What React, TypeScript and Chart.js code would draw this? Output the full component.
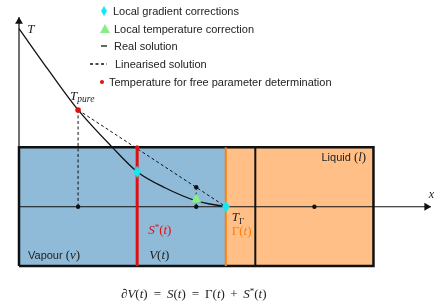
import React, { useEffect, useRef } from "react";
import { Chart, registerables } from "chart.js";
Chart.register(...registerables);

// ---- data (abstract units: x position, temperature T) ----
const curveX = [0, 0.5, 1, 1.58, 2, 2.47, 3, 3.5];
const curveT = [3, 2.3, 1.63, 1.0, 0.59, 0.32, 0.1, 0];
const linearX = [1, 3.5];
const linearT = [1.63, 0];
const pureX = 1;
const pureT = 1.63;
const sStarX = 2;
const gammaX = 3.5;
const innerLineX = 4;
const boxLeft = 0;
const boxRight = 6;
const boxTop = 1;
const boxBottom = -1;
const axisEndX = 6.97;
const axisEndT = 3.19;
const gradX = [2, 3.5];
const gradT = [0.59, 0];
const tempCorrX = [3];
const tempCorrT = [0.12];
const nodeX = [1, 3, 3, 5];
const nodeT = [0, 0, 0.33, 0];
const redDotX = [1, 2];
const redDotT = [1.63, 1];
const legendLabels = [
  "Local gradient corrections",
  "Local temperature correction",
  "Real solution",
  "Linearised solution",
  "Temperature for free parameter determination",
];

const BLUE = "#8fbbd9";
const ORANGE_FILL = "#ffbf86";
const RED = "#e01010";
const ORANGE = "#ff7f0e";
const CYAN = "#14e8f4";
const GREEN = "#86ee86";

function pts(xs: number[], ys: number[]) {
  return xs.map((v, i) => ({ x: v, y: ys[i] }));
}

function makeDiamond(w: number, h: number) {
  const c = document.createElement("canvas");
  c.width = w;
  c.height = h;
  const g = c.getContext("2d")!;
  g.fillStyle = CYAN;
  g.beginPath();
  g.moveTo(w / 2, 0);
  g.lineTo(w, h / 2);
  g.lineTo(w / 2, h);
  g.lineTo(0, h / 2);
  g.closePath();
  g.fill();
  return c;
}

const SANS = "Liberation Sans, Arial, sans-serif";
const SERIF = "Liberation Serif, DejaVu Serif, serif";

type Run = [string, string, number, number?];

function drawRuns(ctx: CanvasRenderingContext2D, x: number, y: number, runs: Run[], color: string) {
  let cx = x;
  ctx.fillStyle = color;
  for (const [t, font, dy, gap] of runs) {
    cx += gap || 0;
    ctx.font = font;
    ctx.fillText(t, cx, y + dy);
    cx += ctx.measureText(t).width;
  }
}

const it = (s: number) => `italic ${s}px ${SERIF}`;
const up = (s: number) => `${s}px ${SERIF}`;
const sans = (s: number) => `${s}px ${SANS}`;
const M = 13;

const overlay = {
  id: "overlay",
  afterDraw(chart: any) {
    const { ctx } = chart;
    const xs = chart.scales.x;
    const ys = chart.scales.y;
    const X = (v: number) => xs.getPixelForValue(v);
    const Y = (v: number) => ys.getPixelForValue(v);
    ctx.save();
    ctx.textBaseline = "alphabetic";
    ctx.textAlign = "left";

    // axis / math labels
    drawRuns(ctx, X(0.14), Y(2.93), [["T", it(M), 0]], "#222");
    drawRuns(ctx, X(pureX) - 8, Y(pureT) - 10, [["T", it(M), 0], ["pure", it(9.5), 2.5]], "#222");
    drawRuns(ctx, X(gammaX) + 6, Y(0) + 14, [["T", it(M), 0], ["Γ", up(9), 3]], "#222");
    drawRuns(ctx, X(gammaX) + 6, Y(0) + 28, [["Γ(", up(M), 0], ["t", it(M), 0], [")", up(M), 0]], ORANGE);
    drawRuns(ctx, X(sStarX) + 11, Y(0) + 27, [["S", it(M), 0], ["*", up(9), -4], ["(", up(M), 0], ["t", it(M), 0], [")", up(M), 0]], RED);
    drawRuns(ctx, X(sStarX) + 12, Y(0) + 52, [["V", it(M), 0], ["(", up(M), 0], ["t", it(M), 0], [")", up(M), 0]], "#222");
    drawRuns(ctx, X(boxLeft) + 9, Y(0) + 52, [["Vapour ", sans(11), 0], ["(", up(M), 0], ["v", it(M), 0], [")", up(M), 0]], "#222");
    drawRuns(ctx, X(boxRight) - 52, Y(boxTop) + 14, [["Liquid ", sans(11), 0], ["(", up(M), 0], ["l", it(M), 0], [")", up(M), 0]], "#222");
    drawRuns(ctx, X(axisEndX) - 2, Y(0) - 9, [["x", it(12), 0]], "#222");
    drawRuns(ctx, 121, 298, [
      ["∂", it(M), 0], ["V", it(M), 0], ["(", up(M), 0], ["t", it(M), 0], [")", up(M), 0],
      ["=", up(M), 0, 6], ["S", it(M), 0, 6], ["(", up(M), 0], ["t", it(M), 0], [")", up(M), 0],
      ["=", up(M), 0, 6], ["Γ(", up(M), 0, 6], ["t", it(M), 0], [")", up(M), 0],
      ["+", up(M), 0, 5.5], ["S", it(M), 0, 5.5], ["*", up(9), -4], ["(", up(M), 0], ["t", it(M), 0], [")", up(M), 0],
    ], "#222");

    // legend
    const rows = [11, 29, 46, 64, 82];
    const textX = [113, 114, 114, 115, 109];
    ctx.drawImage(makeDiamond(6, 10), 101, rows[0] - 5);
    ctx.fillStyle = GREEN;
    ctx.beginPath();
    ctx.moveTo(105, rows[1] - 5);
    ctx.lineTo(110, rows[1] + 4);
    ctx.lineTo(100, rows[1] + 4);
    ctx.closePath();
    ctx.fill();
    ctx.strokeStyle = "#111";
    ctx.lineWidth = 1.3;
    ctx.beginPath();
    ctx.moveTo(101, rows[2]);
    ctx.lineTo(107, rows[2]);
    ctx.stroke();
    ctx.setLineDash([3, 2.5]);
    ctx.beginPath();
    ctx.moveTo(90, rows[3]);
    ctx.lineTo(107, rows[3]);
    ctx.stroke();
    ctx.setLineDash([]);
    ctx.fillStyle = RED;
    ctx.beginPath();
    ctx.arc(102, rows[4], 2, 0, Math.PI * 2);
    ctx.fill();
    ctx.fillStyle = "#222";
    ctx.font = sans(11);
    ctx.textBaseline = "middle";
    legendLabels.forEach((l, i) => ctx.fillText(l, textX[i], rows[i] + 0.5));
    ctx.restore();
  },
};

export default function App() {
  const ref = useRef<HTMLCanvasElement>(null);
  useEffect(() => {
    document.body.style.margin = "0";
    const diamond = makeDiamond(8, 12);
    const line = (data: any[], color: string, width: number, order: number, extra: any = {}) => ({
      data,
      showLine: true,
      borderColor: color,
      borderWidth: width,
      pointRadius: 0,
      fill: false,
      clip: false,
      order,
      ...extra,
    });
    const chart = new Chart(ref.current!, {
      type: "scatter",
      data: {
        datasets: [
          line(pts([boxLeft, gammaX], [boxTop, boxTop]), "rgba(0,0,0,0)", 0, 20, { fill: { value: boxBottom }, backgroundColor: BLUE }),
          line(pts([gammaX, boxRight], [boxTop, boxTop]), "rgba(0,0,0,0)", 0, 20, { fill: { value: boxBottom }, backgroundColor: ORANGE_FILL }),
          line(pts([boxLeft, axisEndX], [0, 0]), "#111", 1.2, 10),
          line(pts([boxLeft, boxLeft], [boxBottom, axisEndT]), "#111", 1.2, 10),
          line(pts([boxLeft, boxLeft, boxRight, boxRight, boxLeft], [boxBottom, boxTop, boxTop, boxBottom, boxBottom]), "#111", 2.5, 9),
          line(pts([innerLineX, innerLineX], [boxBottom, boxTop]), "#111", 2, 9),
          line(pts([pureX, pureX], [pureT, 0]), "#111", 1, 8, { borderDash: [3, 2.5] }),
          line(pts([nodeX[2], nodeX[2]], [nodeT[2], 0]), "#111", 1, 8, { borderDash: [3, 2.5] }),
          line(pts(linearX, linearT), "#111", 1, 8, { borderDash: [3, 2.5] }),
          line(pts(curveX, curveT), "#111", 1.3, 8, { cubicInterpolationMode: "monotone" }),
          line(pts([sStarX, sStarX], [boxBottom, boxTop]), RED, 3, 6),
          line(pts([gammaX, gammaX], [boxBottom, boxTop]), ORANGE, 2, 6),
          { data: [{ x: axisEndX - 0.07, y: 0 }], pointStyle: "triangle", rotation: 90, pointRadius: 4.5, backgroundColor: "#111", borderWidth: 0, clip: false, order: 5 },
          { data: [{ x: boxLeft, y: axisEndT - 0.07 }], pointStyle: "triangle", rotation: 0, pointRadius: 4.5, backgroundColor: "#111", borderWidth: 0, clip: false, order: 5 },
          { data: pts(nodeX, nodeT), pointRadius: 2.2, backgroundColor: "#111", borderWidth: 0, clip: false, order: 4 },
          { data: pts(redDotX, redDotT), pointRadius: [2.8, 2], backgroundColor: RED, borderWidth: 0, clip: false, order: 3 },
          { data: pts(tempCorrX, tempCorrT), pointStyle: "triangle", pointRadius: 6, backgroundColor: GREEN, borderWidth: 0, clip: false, order: 2 },
          { data: pts(gradX, gradT), pointStyle: diamond, backgroundColor: CYAN, borderWidth: 0, clip: false, order: 1 },
        ] as any,
      },
      options: {
        responsive: false,
        animation: false,
        events: [],
        layout: { padding: { left: 19, right: 3, top: 18.5, bottom: 11.2 } },
        scales: {
          x: { type: "linear", min: 0, max: 6.94, display: false },
          y: { type: "linear", min: -1.5, max: 3.17, display: false },
        },
        plugins: { legend: { display: false }, tooltip: { enabled: false } },
      },
      plugins: [overlay],
    });
    return () => chart.destroy();
  }, []);
  return (
    <div style={{ width: 435, height: 307, background: "#fff" }}>
      <canvas ref={ref} width={435} height={307} />
    </div>
  );
}
